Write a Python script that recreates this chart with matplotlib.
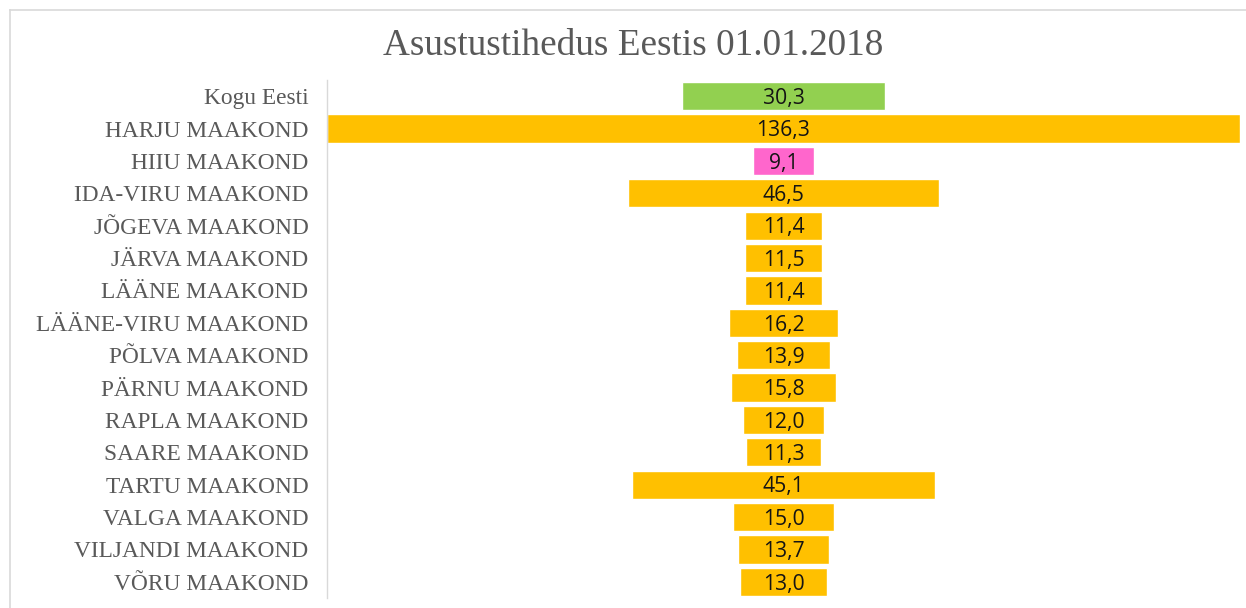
import matplotlib
matplotlib.use("Agg")
import matplotlib.pyplot as plt
from matplotlib.lines import Line2D

labels = ["Kogu Eesti", "HARJU MAAKOND", "HIIU MAAKOND", "IDA-VIRU MAAKOND",
          "JÕGEVA MAAKOND", "JÄRVA MAAKOND", "LÄÄNE MAAKOND", "LÄÄNE-VIRU MAAKOND",
          "PÕLVA MAAKOND", "PÄRNU MAAKOND", "RAPLA MAAKOND", "SAARE MAAKOND",
          "TARTU MAAKOND", "VALGA MAAKOND", "VILJANDI MAAKOND", "VÕRU MAAKOND"]
values = [30.3, 136.3, 9.1, 46.5, 11.4, 11.5, 11.4, 16.2,
          13.9, 15.8, 12.0, 11.3, 45.1, 15.0, 13.7, 13.0]
colors = ["#92D050", "#FFC000", "#FF66CC"] + ["#FFC000"] * 13

W, H = 1246, 608
fig = plt.figure(figsize=(W / 100, H / 100), dpi=100)
ax = fig.add_axes([327 / W, 1 - 598 / H, (1240 - 327) / W, (598 - 80) / H])

# centred bars (funnel look)
y = list(range(len(values)))
lefts = [-v / 2 for v in values]
ax.barh(y, values, left=lefts, height=0.87, color=colors,
        edgecolor="white", linewidth=1.0)

half = max(values) / 2
ax.set_xlim(-half, half)
ax.set_ylim(len(values) - 0.5, -0.5)

for yi, v in zip(y, values):
    ax.text(0, yi + 0.07, f"{v:.1f}".replace(".", ","), ha="center", va="center",
            fontsize=15.2, family=["Open Sans", "DejaVu Sans"], color="#141414")

ax.set_yticks(y)
ax.set_yticklabels(labels, family=["Liberation Serif", "DejaVu Serif"],
                   fontsize=16.8, color="#595959")
ax.tick_params(axis="y", length=0, pad=13.5)
ax.set_xticks([])
for s in ["top", "right", "bottom"]:
    ax.spines[s].set_visible(False)
ax.spines["left"].set_color("#D9D9D9")
ax.spines["left"].set_linewidth(1.0)

fig.text(633 / W, 1 - 46 / H, "Asustustihedus Eestis 01.01.2018",
         ha="center", va="center", fontsize=26.8,
         family=["Liberation Serif", "DejaVu Serif"], color="#595959")

# outer chart border (only top and left visible)
bx, by = 10 / W, 1 - 10 / H
fig.add_artist(Line2D([bx, 1], [by, by], color="#D9D9D9", lw=1.2,
                      transform=fig.transFigure))
fig.add_artist(Line2D([bx, bx], [0, by], color="#D9D9D9", lw=1.2,
                      transform=fig.transFigure))

fig.savefig("out.png", dpi=100, facecolor="white")
